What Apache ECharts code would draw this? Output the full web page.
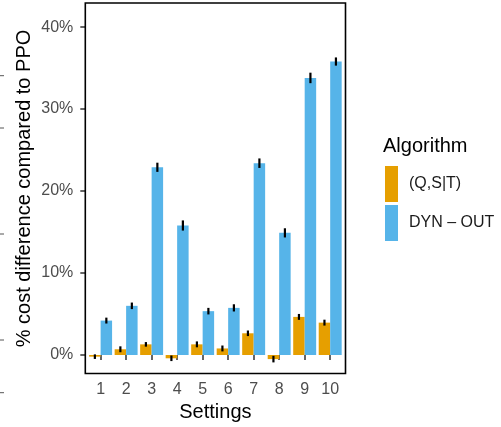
<!DOCTYPE html>
<html>
<head>
<meta charset="utf-8">
<script src="https://cdn.jsdelivr.net/npm/echarts@6/dist/echarts.min.js"></script>
<style>
  html, body { margin: 0; padding: 0; background: #fff; }
  #main { width: 501px; height: 427px; }
</style>
</head>
<body>
<div id="main"></div>
<script>
// data
var settings = ['1', '2', '3', '4', '5', '6', '7', '8', '9', '10'];
var qst = [-0.2, 0.7, 1.3, -0.4, 1.3, 0.8, 2.65, -0.5, 4.65, 3.95];
var qstErr = [0.28, 0.36, 0.28, 0.34, 0.36, 0.36, 0.34, 0.4, 0.36, 0.36];
var dyn = [4.2, 6.0, 22.9, 15.8, 5.35, 5.75, 23.4, 14.9, 33.8, 35.8];
var dynErr = [0.36, 0.4, 0.56, 0.62, 0.4, 0.44, 0.58, 0.56, 0.64, 0.5];
var yTicks = [0, 10, 20, 30, 40];

var FONT = "'Liberation Sans', Arial, sans-serif";
var ORANGE = '#E69F00';
var BLUE = '#56B4E9';

var chart = echarts.init(document.getElementById('main'), null, { renderer: 'canvas' });

function errData(vals, errs) {
  return vals.map(function (v, i) { return [i, v, errs[i]]; });
}

// draws a vertical error line, shifted to the dodged bar centre
function errRenderer(side) {
  return function (params, api) {
    var i = api.value(0);
    var v = api.value(1);
    var e = api.value(2);
    var band = api.size([1, 0])[0];
    var top = api.coord([i, v + e]);
    var bot = api.coord([i, v - e]);
    var x = top[0] + side * band * 0.225;
    return {
      type: 'line',
      shape: { x1: x, y1: top[1], x2: x, y2: bot[1] },
      style: { stroke: '#000', lineWidth: 2.2 }
    };
  };
}

var option = {
  animation: false,
  backgroundColor: '#fff',
  title: {
    text: 'Algorithm',
    left: 383,
    top: 136,
    padding: 0,
    textStyle: { fontFamily: FONT, fontSize: 20, fontWeight: 'normal', color: '#000' }
  },
  legend: {
    data: ['(Q,S|T)', 'DYN – OUT'],
    orient: 'vertical',
    left: 385,
    top: 166,
    padding: 0,
    itemWidth: 13,
    itemHeight: 36,
    itemGap: 3,
    icon: 'rect',
    textStyle: { fontFamily: FONT, fontSize: 16, color: '#1a1a1a', padding: [0, 0, 0, 6] }
  },
  grid: {
    left: 87.85,
    top: 3,
    width: 255.1,
    height: 370.5,
    containLabel: false
  },
  xAxis: {
    type: 'category',
    data: settings,
    boundaryGap: true,
    name: 'Settings',
    nameLocation: 'middle',
    nameGap: 31,
    nameTextStyle: { fontFamily: FONT, fontSize: 20, color: '#000' },
    axisLine: { show: false },
    axisTick: { show: true, alignWithLabel: true, length: 5, lineStyle: { color: '#333', width: 1.5 } },
    axisLabel: { fontFamily: FONT, fontSize: 16, color: '#4d4d4d', margin: 11 },
    splitLine: { show: false }
  },
  yAxis: {
    type: 'value',
    min: -1.84,
    max: 42.94,
    offset: 2.55,
    axisLine: { show: false },
    axisTick: { show: true, length: 5, customValues: yTicks, lineStyle: { color: '#333', width: 1.5 } },
    axisLabel: {
      fontFamily: FONT, fontSize: 16, color: '#4d4d4d', margin: 12,
      customValues: yTicks,
      formatter: function (v) { return v + '%'; }
    },
    splitLine: { show: false }
  },
  series: [
    {
      name: '(Q,S|T)',
      type: 'bar',
      data: qst,
      barWidth: '45%',
      barGap: '0%',
      itemStyle: { color: ORANGE }
    },
    {
      name: 'DYN – OUT',
      type: 'bar',
      data: dyn,
      barWidth: '45%',
      barGap: '0%',
      itemStyle: { color: BLUE }
    },
    {
      name: 'errQ',
      type: 'custom',
      z: 5,
      renderItem: errRenderer(-1),
      data: errData(qst, qstErr)
    },
    {
      name: 'errD',
      type: 'custom',
      z: 5,
      renderItem: errRenderer(1),
      data: errData(dyn, dynErr)
    }
  ],
  graphic: [
    // panel border
    {
      type: 'rect', z: 10, silent: true,
      shape: { x: 85.3, y: 3, width: 260.2, height: 370.5 },
      style: { fill: 'none', stroke: '#000', lineWidth: 1.6 }
    },
    // y axis title
    {
      type: 'text', z: 10, silent: true,
      x: 24.5, y: 188.5, rotation: Math.PI / 2,
      style: {
        text: '% cost difference compared to PPO',
        fontFamily: FONT, fontSize: 20, fill: '#000',
        align: 'center', verticalAlign: 'middle'
      }
    },
    // stray ticks at the left edge of the crop
    { type: 'line', silent: true, shape: { x1: 0, y1: 75.7, x2: 4, y2: 75.7 }, style: { stroke: '#555', lineWidth: 1 } },
    { type: 'line', silent: true, shape: { x1: 0, y1: 128, x2: 4, y2: 128 }, style: { stroke: '#555', lineWidth: 1 } },
    { type: 'line', silent: true, shape: { x1: 0, y1: 234, x2: 4, y2: 234 }, style: { stroke: '#555', lineWidth: 1 } },
    { type: 'line', silent: true, shape: { x1: 0, y1: 340, x2: 4, y2: 340 }, style: { stroke: '#555', lineWidth: 1 } },
    { type: 'line', silent: true, shape: { x1: 0, y1: 392.7, x2: 4, y2: 392.7 }, style: { stroke: '#555', lineWidth: 1 } }
  ]
};

chart.setOption(option);
</script>
</body>
</html>
